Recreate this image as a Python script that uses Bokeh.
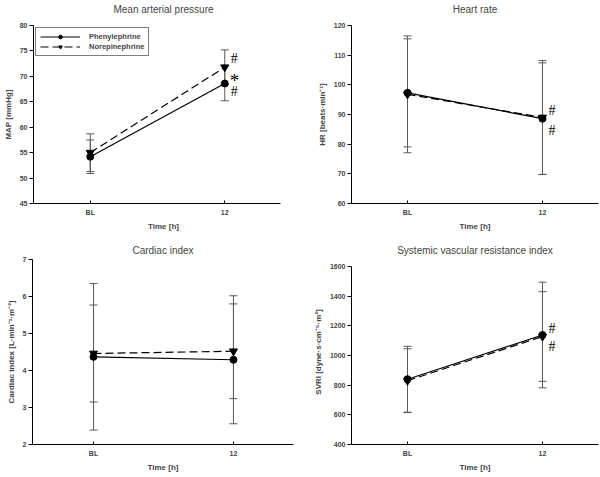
from bokeh.plotting import figure
from bokeh.models import (Whisker, TeeHead, ColumnDataSource, Legend, LegendItem,
                          Range1d, FixedTicker)
from bokeh.layouts import column, row
from bokeh.embed import file_html
from bokeh.resources import INLINE
from bokeh.core.properties import value

# ---------------- data ----------------
time_labels = ["BL", "12"]
time_pos = [0, 1]

map_phe = [54.2, 68.6]
map_phe_sd = [3.3, 3.4]
map_nor = [55.0, 71.8]
map_nor_sd = [3.7, 3.4]
map_ticks = [45, 50, 55, 60, 65, 70, 75, 80]
map_hash_y = [73.5, 67.0]
map_star_y = [70.0]

hr_phe = [97.3, 88.6]
hr_phe_sd = [18.2, 18.8]
hr_nor = [96.8, 89.0]
hr_nor_sd = [19.7, 19.2]
hr_ticks = [60, 70, 80, 90, 100, 110, 120]
hr_hash_y = [91.2, 84.5]

ci_phe = [4.37, 4.29]
ci_phe_sd = [1.98, 1.73]
ci_nor = [4.46, 4.52]
ci_nor_sd = [1.31, 1.28]
ci_ticks = [2, 3, 4, 5, 6, 7]

svri_phe = [840, 1138]
svri_phe_sd = [222, 356]
svri_nor = [830, 1128]
svri_nor_sd = [215, 302]
svri_ticks = [400, 600, 800, 1000, 1200, 1400, 1600]
svri_hash_y = [1180, 1062]

FONT = "Liberation Sans"
ERR = "#5a5a5a"


def panel(title, ylabel, ticks, phe, phe_sd, nor, nor_sd, width, height,
          bl, br, bt, bb, title_standoff, title_offset, xr, xbounds, ytop,
          hash_y=None, star_y=None, legend=False):
    p = figure(width=width, height=height,
               x_range=Range1d(*xr),
               y_range=Range1d(ticks[0], ytop),
               output_backend="svg", toolbar_location=None,
               min_border_left=bl, min_border_right=br,
               min_border_top=bt, min_border_bottom=bb)
    p.xgrid.visible = False
    p.ygrid.visible = False
    p.outline_line_color = None
    p.background_fill_color = "white"
    p.border_fill_color = "white"

    p.title.text = title
    p.title.align = "center"
    p.title.offset = title_offset
    p.title.text_font = FONT
    p.title.text_font_size = "10px"
    p.title.text_font_style = "normal"
    p.title.standoff = title_standoff

    # axes
    p.xaxis.ticker = FixedTicker(ticks=time_pos)
    p.xaxis.major_label_overrides = {tp: lab for tp, lab in zip(time_pos, time_labels)}
    p.xaxis.axis_label = "Time [h]"
    p.xaxis.bounds = xbounds
    p.yaxis.ticker = FixedTicker(ticks=ticks)
    p.yaxis.axis_label = ylabel
    p.yaxis.bounds = (ticks[0], ticks[-1])
    for ax in (p.xaxis[0], p.yaxis[0]):
        ax.axis_line_color = "black"
        ax.axis_line_width = 1
        ax.major_tick_line_color = "black"
        ax.minor_tick_line_color = None
        ax.axis_label_text_font = FONT
        ax.axis_label_text_font_size = "8px"
        ax.axis_label_text_font_style = "bold"
        ax.major_label_text_font = FONT
        ax.major_label_text_font_size = "7px"
        ax.major_label_text_font_style = "bold"
    p.yaxis.major_tick_out = 4
    p.yaxis.major_tick_in = 0
    p.yaxis.major_label_standoff = 2
    p.yaxis.axis_label_standoff = 4
    p.xaxis.major_tick_out = 0
    p.xaxis.major_tick_in = 3
    p.xaxis.major_label_standoff = 5
    p.xaxis.axis_label_standoff = 3

    # error bars
    for m, s in ((phe, phe_sd), (nor, nor_sd)):
        src = ColumnDataSource(dict(x=time_pos,
                                    upper=[a + b for a, b in zip(m, s)],
                                    lower=[a - b for a, b in zip(m, s)]))
        w = Whisker(base="x", upper="upper", lower="lower", source=src,
                    line_color=ERR, line_width=1, level="underlay",
                    upper_head=TeeHead(size=8, line_color=ERR, line_width=1),
                    lower_head=TeeHead(size=8, line_color=ERR, line_width=1))
        p.add_layout(w)

    l1 = p.line(time_pos, phe, line_color="black", line_width=1.2)
    s1 = p.scatter(time_pos, phe, marker="circle", size=7, color="black")
    l2 = p.line(time_pos, nor, line_color="black", line_width=1.2, line_dash="8 4")
    s2 = p.scatter(time_pos, nor, marker="inverted_triangle", size=8, color="black")

    if hash_y:
        p.text(x=[time_pos[1]] * len(hash_y), y=hash_y, text=["#"] * len(hash_y),
               x_offset=6, text_align="left", text_baseline="middle",
               text_font=value("Liberation Serif"), text_font_size="14px",
               text_color="black")
    if star_y:
        p.text(x=[time_pos[1]] * len(star_y), y=star_y, text=["*"] * len(star_y),
               x_offset=5, y_offset=4, text_align="left", text_baseline="middle",
               text_font=value("Liberation Serif"), text_font_size="19px",
               text_color="black")

    if legend:
        lg = Legend(items=[LegendItem(label="Phenylephrine", renderers=[l1, s1]),
                           LegendItem(label="Norepinephrine", renderers=[l2, s2])],
                    location="top_left", glyph_width=40, glyph_height=9,
                    label_height=9, label_text_font=FONT, label_text_font_size="7.5px",
                    label_text_font_style="bold", spacing=1, padding=4, margin=2,
                    label_standoff=9, border_line_color="black", border_line_width=1,
                    background_fill_alpha=1)
        p.add_layout(lg)
    return p


# top row: frames 25..203 ; bottom row: frames 259..444
p1 = panel("Mean arterial pressure\n", "MAP [mmHg]", map_ticks,
           map_phe, map_phe_sd, map_nor, map_nor_sd,
           300, 238, 32, 7, 25, 35, 0, -6, (-0.422, 1.511), (-0.422, 1.415), map_ticks[-1],
           hash_y=map_hash_y, star_y=map_star_y, legend=True)
p2 = panel("Heart rate\n", "HR [beats\u00b7min\u207b\u00b9]", hr_ticks,
           hr_phe, hr_phe_sd, hr_nor, hr_nor_sd,
           300, 238, 51, 2, 25, 35, 0, 0, (-0.415, 1.415), (-0.415, 1.415), hr_ticks[-1],
           hash_y=hr_hash_y)
p3 = panel("Cardiac index", "Cardiac index [L\u00b7min\u207b\u00b9\u00b7m\u207b\u00b2]", ci_ticks,
           ci_phe, ci_phe_sd, ci_nor, ci_nor_sd,
           300, 239, 32, 7, 21, 33, 7, 0, (-0.436, 1.429), (-0.436, 1.429), ci_ticks[-1])
p4 = panel("Systemic vascular resistance index", "SVRI [dyne\u00b7s\u00b7cm\u207b\u2075\u00b7m\u00b2]", svri_ticks,
           svri_phe, svri_phe_sd, svri_nor, svri_nor_sd,
           300, 239, 51, 2, 21, 33, 7, 0, (-0.415, 1.415), (-0.415, 1.415), 1647,
           hash_y=svri_hash_y)

layout = column(row(p1, p2), row(p3, p4))

with open("out.html", "w") as f:
    f.write(file_html(layout, INLINE))
